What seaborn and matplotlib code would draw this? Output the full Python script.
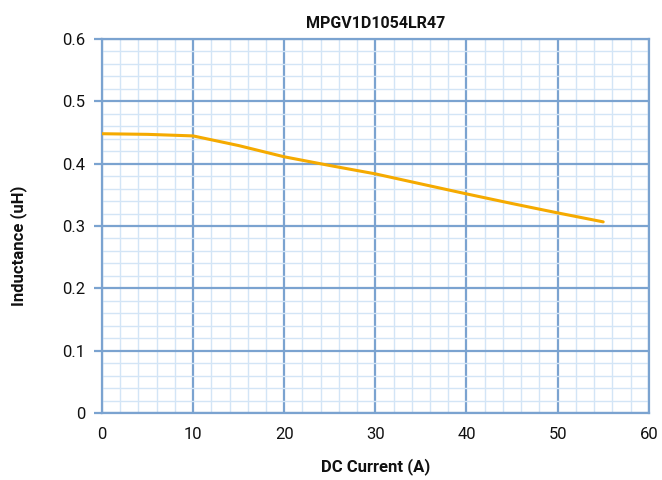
import matplotlib
matplotlib.use("Agg")
import matplotlib.pyplot as plt
import seaborn as sns
import pandas as pd
from matplotlib.ticker import MultipleLocator

current = [0, 5, 10, 15, 20, 25, 30, 35, 40, 45, 50, 55]
inductance = [0.448, 0.447, 0.4445, 0.429, 0.411, 0.397, 0.3836, 0.3675, 0.3515, 0.336, 0.321, 0.3066]
title = "MPGV1D1054LR47"
xlabel = "DC Current (A)"
ylabel = "Inductance (uH)"

sns.set_theme(style="white")
plt.rcParams['font.family'] = ['Roboto', 'DejaVu Sans']

major_c = "#7BA3D0"
minor_c = "#D3E5F6"
text_c = "#111111"

fig = plt.figure(figsize=(6.62, 4.8), dpi=100)
ax = fig.add_axes([0.154, 0.1396, 0.826, 0.7792])

df = pd.DataFrame({"x": current, "y": inductance})
sns.lineplot(data=df, x="x", y="y", ax=ax, color="#F5AA00", linewidth=2.2, zorder=5)

ax.set_xlim(0, 60)
ax.set_ylim(0, 0.6)
ax.xaxis.set_major_locator(MultipleLocator(10))
ax.xaxis.set_minor_locator(MultipleLocator(2))
ax.yaxis.set_major_locator(MultipleLocator(0.1))
ax.yaxis.set_minor_locator(MultipleLocator(0.02))
ax.set_yticks([0, 0.1, 0.2, 0.3, 0.4, 0.5, 0.6])
ax.set_yticklabels(["0", "0.1", "0.2", "0.3", "0.4", "0.5", "0.6"])
ax.grid(which="minor", color=minor_c, linewidth=1.0, zorder=0)
ax.grid(which="major", color=major_c, linewidth=1.6, zorder=1)
ax.set_axisbelow(True)
for s in ax.spines.values():
    s.set_color(major_c)
    s.set_linewidth(1.6)
ax.tick_params(axis="y", which="major", length=6, width=1.6, color=major_c,
               labelsize=12, pad=6, left=True, labelcolor=text_c)
ax.tick_params(axis="x", which="major", length=0, labelsize=12, pad=10, labelcolor=text_c)
ax.tick_params(which="minor", length=0)

ax.set_title(title, fontsize=11.5, fontweight="bold", pad=8, color=text_c)
ax.set_xlabel(xlabel, fontsize=12, fontweight="bold", labelpad=12, color=text_c)
ax.set_ylabel(ylabel, fontsize=12, fontweight="bold", color=text_c)
ax.yaxis.set_label_coords(-0.137, 0.447)

fig.savefig("out.png", dpi=100)
